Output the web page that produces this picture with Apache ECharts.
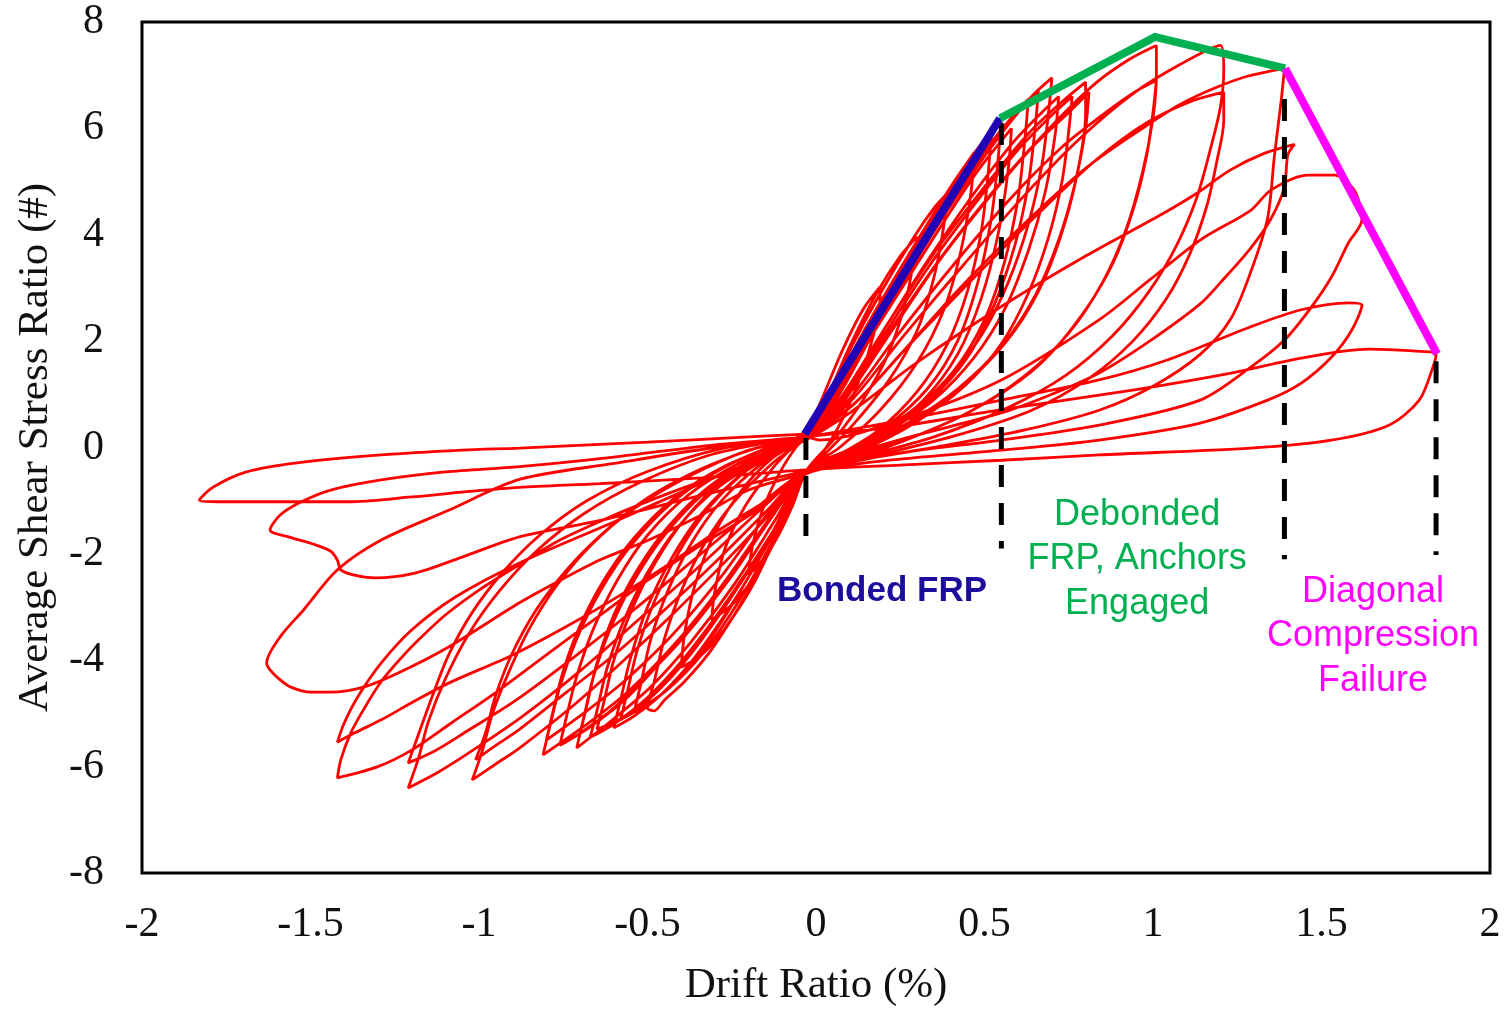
<!DOCTYPE html>
<html>
<head>
<meta charset="utf-8">
<script src="https://cdn.jsdelivr.net/npm/echarts@6/dist/echarts.min.js"></script>
<style>
  html, body { margin: 0; padding: 0; background: #ffffff; }
  #chart { width: 1511px; height: 1016px; }
</style>
</head>
<body>
<div id="chart"></div>
<script>
// Cyclic test record, one array per load cycle: [drift ratio (%), average shear stress ratio]
const cycle01 = [[-0.03,0.22],[0.02,0.95],[0.08,1.85],[0.14,2.6],[0.19,3.02],[0.19,2.75],[0.17,2.1],[0.13,1.3],[0.08,0.55],[0.02,-0.1],[-0.03,-0.45],[-0.07,-1.1],[-0.12,-1.75],[-0.17,-2.2],[-0.2,-2.4],[-0.19,-1.9],[-0.16,-1.2],[-0.11,-0.5],[-0.06,0.0],[-0.03,0.2]];
const cycle02 = [[0.03,0.9],[0.1,1.9],[0.18,2.9],[0.25,3.6],[0.3,3.96],[0.29,3.5],[0.26,2.6],[0.21,1.7],[0.14,0.9],[0.06,0.2],[-0.03,-0.45],[-0.09,-1.3],[-0.16,-2.2],[-0.24,-2.9],[-0.31,-3.24],[-0.3,-2.7],[-0.27,-1.9],[-0.21,-1.1],[-0.13,-0.4],[-0.07,0.0],[-0.03,0.2]];
const cycle03 = [[0.03,0.85],[0.11,1.95],[0.2,3.0],[0.29,3.95],[0.35,4.5],[0.39,4.78],[0.38,4.2],[0.35,3.2],[0.3,2.2],[0.22,1.3],[0.12,0.5],[0.03,-0.1],[-0.03,-0.45],[-0.1,-1.4],[-0.18,-2.5],[-0.27,-3.4],[-0.34,-3.9],[-0.4,-4.13],[-0.39,-3.5],[-0.36,-2.6],[-0.3,-1.6],[-0.22,-0.8],[-0.13,-0.2],[-0.03,0.2]];
const cycle04 = [[0.04,0.9],[0.13,2.05],[0.23,3.15],[0.33,4.2],[0.41,5.0],[0.47,5.55],[0.46,4.8],[0.43,3.7],[0.38,2.6],[0.3,1.6],[0.19,0.7],[0.07,0.0],[-0.03,-0.45],[-0.11,-1.6],[-0.21,-2.8],[-0.31,-3.8],[-0.39,-4.4],[-0.45,-4.75],[-0.48,-4.95],[-0.5,-4.9],[-0.48,-4.4],[-0.45,-3.6],[-0.4,-2.7],[-0.33,-1.8],[-0.24,-1.0],[-0.13,-0.3],[-0.04,0.15]];
const cycle05 = [[0.04,0.95],[0.14,2.1],[0.25,3.3],[0.36,4.45],[0.46,5.45],[0.55,6.19],[0.54,5.4],[0.52,4.3],[0.48,3.1],[0.42,2.0],[0.33,1.1],[0.2,0.35],[0.07,-0.15],[-0.03,-0.45],[-0.12,-1.65],[-0.23,-2.9],[-0.34,-3.9],[-0.44,-4.55],[-0.52,-4.9],[-0.58,-5.12],[-0.56,-4.6],[-0.53,-3.8],[-0.48,-2.9],[-0.41,-2.0],[-0.32,-1.15],[-0.2,-0.4],[-0.05,0.18]];
const cycle06 = [[0.04,0.85],[0.14,2.0],[0.24,3.1],[0.34,4.1],[0.44,5.1],[0.52,5.85],[0.51,5.1],[0.49,4.05],[0.45,2.95],[0.39,1.95],[0.3,1.05],[0.18,0.3],[0.05,-0.2],[-0.04,-0.5],[-0.12,-1.5],[-0.22,-2.65],[-0.32,-3.65],[-0.41,-4.35],[-0.48,-4.75],[-0.54,-4.98],[-0.52,-4.45],[-0.49,-3.6],[-0.44,-2.7],[-0.37,-1.8],[-0.28,-1.0],[-0.16,-0.3],[-0.04,0.18]];
const cycle07 = [[0.05,0.9],[0.15,1.95],[0.27,3.15],[0.38,4.25],[0.48,5.2],[0.58,6.0],[0.57,5.2],[0.54,4.0],[0.49,2.8],[0.42,1.75],[0.32,0.9],[0.19,0.25],[0.06,-0.2],[-0.03,-0.45],[-0.12,-1.55],[-0.24,-2.85],[-0.36,-3.95],[-0.46,-4.65],[-0.54,-5.05],[-0.6,-5.27],[-0.58,-4.75],[-0.55,-3.95],[-0.5,-3.0],[-0.43,-2.1],[-0.34,-1.25],[-0.22,-0.5],[-0.06,0.15]];
const cycle08 = [[0.05,0.95],[0.16,2.15],[0.28,3.4],[0.4,4.6],[0.51,5.65],[0.58,6.2],[0.63,6.55],[0.62,5.8],[0.6,4.7],[0.56,3.5],[0.5,2.4],[0.41,1.45],[0.29,0.7],[0.15,0.1],[-0.03,-0.45],[-0.13,-1.6],[-0.26,-2.9],[-0.38,-3.95],[-0.49,-4.7],[-0.58,-5.1],[-0.65,-5.3],[-0.63,-4.8],[-0.6,-4.0],[-0.55,-3.1],[-0.48,-2.2],[-0.39,-1.35],[-0.27,-0.6],[-0.12,-0.05],[-0.02,0.22]];
const cycle09 = [[0.06,0.9],[0.17,2.15],[0.29,3.45],[0.41,4.65],[0.52,5.65],[0.6,6.3],[0.66,6.7],[0.65,6.0],[0.63,4.95],[0.59,3.8],[0.53,2.7],[0.45,1.7],[0.34,0.9],[0.2,0.25],[0.05,-0.25],[-0.03,-0.5],[-0.13,-1.6],[-0.26,-2.85],[-0.39,-3.95],[-0.5,-4.7],[-0.6,-5.2],[-0.67,-5.45],[-0.65,-4.95],[-0.62,-4.15],[-0.57,-3.25],[-0.5,-2.35],[-0.41,-1.5],[-0.29,-0.75],[-0.14,-0.15],[-0.03,0.2]];
const cycle10 = [[0.06,0.95],[0.17,2.2],[0.3,3.6],[0.43,4.85],[0.55,5.9],[0.64,6.6],[0.7,6.95],[0.69,6.3],[0.67,5.3],[0.63,4.2],[0.57,3.1],[0.49,2.1],[0.38,1.2],[0.23,0.45],[0.08,-0.1],[-0.03,-0.45],[-0.12,-1.35],[-0.24,-2.55],[-0.37,-3.65],[-0.49,-4.5],[-0.6,-5.1],[-0.71,-5.65],[-0.69,-5.1],[-0.66,-4.3],[-0.61,-3.4],[-0.54,-2.5],[-0.45,-1.65],[-0.33,-0.85],[-0.18,-0.2],[-0.03,0.2]];
const cycle11 = [[0.07,0.9],[0.19,2.1],[0.33,3.5],[0.46,4.7],[0.58,5.7],[0.67,6.3],[0.72,6.6],[0.71,5.9],[0.68,4.8],[0.63,3.7],[0.56,2.6],[0.47,1.7],[0.35,0.9],[0.2,0.25],[0.06,-0.2],[-0.03,-0.45],[-0.13,-1.3],[-0.26,-2.5],[-0.39,-3.55],[-0.51,-4.35],[-0.61,-4.95],[-0.7,-5.37],[-0.68,-4.85],[-0.65,-4.05],[-0.6,-3.15],[-0.53,-2.3],[-0.44,-1.5],[-0.32,-0.75],[-0.17,-0.15],[-0.05,0.17]];
const cycle12 = [[0.07,0.85],[0.2,2.1],[0.34,3.45],[0.48,4.65],[0.6,5.6],[0.7,6.25],[0.76,6.6],[0.75,5.95],[0.73,5.0],[0.69,3.95],[0.63,2.9],[0.55,1.95],[0.44,1.15],[0.29,0.45],[0.12,-0.1],[-0.04,-0.48],[-0.15,-1.45],[-0.29,-2.7],[-0.43,-3.8],[-0.56,-4.7],[-0.67,-5.25],[-0.76,-5.6],[-0.74,-5.05],[-0.71,-4.3],[-0.66,-3.4],[-0.59,-2.5],[-0.5,-1.65],[-0.38,-0.9],[-0.23,-0.3],[-0.06,0.15]];
const cycle13 = [[0.07,0.9],[0.2,2.2],[0.35,3.65],[0.5,4.9],[0.63,5.9],[0.73,6.5],[0.8,6.87],[0.8,6.25],[0.78,5.3],[0.74,4.25],[0.68,3.2],[0.59,2.2],[0.47,1.35],[0.32,0.6],[0.15,0.0],[-0.03,-0.45],[-0.14,-1.35],[-0.28,-2.6],[-0.42,-3.7],[-0.56,-4.6],[-0.69,-5.25],[-0.81,-5.78],[-0.79,-5.25],[-0.76,-4.5],[-0.71,-3.6],[-0.64,-2.7],[-0.55,-1.85],[-0.43,-1.05],[-0.28,-0.4],[-0.12,0.05],[-0.02,0.2]];
const cycle14 = [[0.08,0.85],[0.22,2.15],[0.37,3.55],[0.52,4.75],[0.65,5.7],[0.75,6.3],[0.81,6.68],[0.8,6.0],[0.77,5.0],[0.72,3.9],[0.65,2.85],[0.55,1.9],[0.42,1.1],[0.27,0.45],[0.1,-0.1],[-0.03,-0.45],[-0.15,-1.3],[-0.29,-2.5],[-0.43,-3.55],[-0.57,-4.4],[-0.69,-5.0],[-0.8,-5.5],[-0.78,-4.95],[-0.75,-4.2],[-0.7,-3.35],[-0.63,-2.5],[-0.54,-1.7],[-0.42,-0.95],[-0.27,-0.35],[-0.1,0.08],[-0.03,0.22]];
const cycle15 = [[0.08,0.9],[0.22,2.2],[0.38,3.65],[0.55,5.0],[0.7,6.05],[0.83,6.85],[0.93,7.3],[1.01,7.56],[1.01,7.0],[1.0,6.2],[0.97,5.2],[0.92,4.1],[0.85,3.1],[0.75,2.15],[0.62,1.35],[0.45,0.65],[0.25,0.1],[0.07,-0.3],[-0.03,-0.45],[-0.13,-1.2],[-0.27,-2.15],[-0.42,-3.1],[-0.57,-4.0],[-0.72,-4.85],[-0.88,-5.65],[-0.95,-5.95],[-1.02,-6.25],[-0.99,-5.7],[-0.96,-5.0],[-0.91,-4.2],[-0.85,-3.4],[-0.77,-2.6],[-0.67,-1.85],[-0.54,-1.15],[-0.38,-0.55],[-0.2,-0.05],[-0.04,0.2]];
const cycle16 = [[0.09,0.85],[0.24,2.1],[0.41,3.45],[0.58,4.7],[0.73,5.65],[0.86,6.3],[0.95,6.7],[1.01,6.9],[1.0,6.3],[0.98,5.45],[0.94,4.45],[0.88,3.45],[0.79,2.5],[0.67,1.6],[0.52,0.9],[0.33,0.3],[0.12,-0.15],[-0.03,-0.45],[-0.14,-1.15],[-0.29,-2.1],[-0.44,-3.0],[-0.59,-3.85],[-0.74,-4.6],[-0.88,-5.3],[-0.95,-5.6],[-1.01,-5.87],[-0.98,-5.35],[-0.95,-4.65],[-0.9,-3.85],[-0.83,-3.05],[-0.74,-2.3],[-0.63,-1.6],[-0.5,-0.95],[-0.34,-0.4],[-0.17,0.0],[-0.03,0.2]];
const cycle17 = [[0.1,0.85],[0.26,2.1],[0.44,3.45],[0.62,4.75],[0.79,5.85],[0.94,6.65],[1.08,7.2],[1.2,7.56],[1.21,7.1],[1.2,6.4],[1.17,5.6],[1.13,4.7],[1.07,3.8],[0.99,2.95],[0.88,2.1],[0.74,1.35],[0.57,0.75],[0.35,0.2],[0.12,-0.2],[-0.03,-0.45],[-0.17,-1.2],[-0.34,-2.2],[-0.52,-3.2],[-0.7,-4.2],[-0.87,-5.05],[-1.02,-5.7],[-1.12,-6.1],[-1.21,-6.4],[-1.18,-5.85],[-1.15,-5.15],[-1.1,-4.35],[-1.03,-3.5],[-0.94,-2.7],[-0.83,-1.95],[-0.69,-1.25],[-0.52,-0.65],[-0.32,-0.15],[-0.12,0.12],[-0.03,0.2]];
const cycle18 = [[0.11,0.8],[0.28,1.95],[0.47,3.2],[0.66,4.4],[0.83,5.4],[0.98,6.1],[1.11,6.5],[1.21,6.68],[1.21,6.15],[1.19,5.4],[1.16,4.55],[1.11,3.65],[1.04,2.8],[0.94,2.0],[0.81,1.3],[0.64,0.7],[0.43,0.25],[0.2,-0.12],[-0.03,-0.45],[-0.18,-1.15],[-0.36,-2.1],[-0.54,-3.05],[-0.72,-3.95],[-0.89,-4.75],[-1.04,-5.35],[-1.13,-5.7],[-1.21,-5.93],[-1.18,-5.4],[-1.14,-4.7],[-1.09,-3.9],[-1.02,-3.1],[-0.93,-2.35],[-0.82,-1.65],[-0.68,-1.0],[-0.5,-0.45],[-0.28,-0.02],[-0.05,0.2]];
const cycle19 = [[0.1,0.75],[0.25,1.75],[0.42,2.95],[0.6,4.1],[0.8,5.25],[0.98,6.05],[1.08,6.45],[1.18,6.75],[1.28,6.98],[1.39,7.13],[1.38,6.5],[1.36,5.47],[1.34,4.31],[1.29,3.3],[1.23,2.41],[1.14,1.75],[1.0,1.15],[0.84,0.7],[0.62,0.33],[0.35,0.0],[0.12,-0.25],[-0.03,-0.5],[-0.18,-1.2],[-0.34,-1.83],[-0.5,-2.5],[-0.64,-3.15],[-0.8,-3.9],[-0.94,-4.56],[-1.08,-5.17],[-1.2,-5.69],[-1.3,-6.0],[-1.42,-6.21],[-1.41,-5.87],[-1.38,-5.36],[-1.34,-4.9],[-1.29,-4.4],[-1.23,-3.95],[-1.18,-3.62],[-1.1,-3.15],[-1.0,-2.68],[-0.88,-2.2],[-0.76,-1.74],[-0.62,-1.33],[-0.49,-0.99],[-0.35,-0.66],[-0.23,-0.42],[-0.12,-0.1],[-0.03,0.14]];
const cycle20 = [[0.1,0.65],[0.3,1.6],[0.55,2.65],[0.8,3.6],[1.03,4.4],[1.13,4.78],[1.23,5.22],[1.33,5.53],[1.42,5.7],[1.4,5.5],[1.39,4.9],[1.35,4.3],[1.29,3.75],[1.2,3.1],[1.14,2.7],[0.99,2.0],[0.84,1.4],[0.7,1.0],[0.55,0.65],[0.25,0.15],[0.05,-0.25],[-0.03,-0.5],[-0.16,-1.05],[-0.3,-1.6],[-0.45,-2.25],[-0.6,-2.85],[-0.75,-3.4],[-0.9,-3.9],[-1.09,-4.43],[-1.2,-4.8],[-1.29,-5.12],[-1.37,-5.37],[-1.42,-5.54],[-1.4,-5.18],[-1.36,-4.69],[-1.29,-4.05],[-1.2,-3.43],[-1.07,-2.81],[-0.88,-2.17],[-0.6,-1.4],[-0.35,-0.7],[-0.15,-0.15],[-0.03,0.2]];
const cycle21 = [[0.01,0.14],[0.25,0.52],[0.55,1.27],[0.84,2.4],[0.99,3.15],[1.14,3.9],[1.29,4.46],[1.35,4.84],[1.46,5.12],[1.54,5.12],[1.59,4.9],[1.61,4.65],[1.62,4.28],[1.58,3.85],[1.53,3.21],[1.47,2.64],[1.39,2.02],[1.29,1.51],[1.14,0.89],[0.84,0.42],[0.55,0.14],[0.25,-0.1],[0.05,-0.35],[-0.05,-0.52],[-0.2,-0.8],[-0.34,-1.27],[-0.5,-1.75],[-0.64,-2.11],[-0.76,-2.5],[-0.88,-2.92],[-1.09,-3.75],[-1.24,-4.24],[-1.34,-4.5],[-1.44,-4.6],[-1.5,-4.6],[-1.56,-4.5],[-1.59,-4.37],[-1.62,-4.18],[-1.63,-4.05],[-1.59,-3.56],[-1.52,-3.05],[-1.42,-2.3],[-1.29,-1.74],[-1.09,-1.18],[-0.88,-0.6],[-0.6,-0.3],[-0.3,0.0],[-0.03,0.2]];
const cycle22 = [[0.2,0.45],[0.55,0.89],[0.84,1.27],[1.04,1.64],[1.29,2.27],[1.44,2.59],[1.58,2.72],[1.62,2.68],[1.59,2.21],[1.53,1.7],[1.44,1.21],[1.34,0.89],[1.14,0.46],[0.84,0.14],[0.55,-0.05],[0.2,-0.25],[-0.03,-0.45],[-0.34,-0.9],[-0.64,-1.37],[-0.88,-1.68],[-1.05,-2.06],[-1.19,-2.36],[-1.31,-2.45],[-1.37,-2.4],[-1.41,-2.3],[-1.42,-2.12],[-1.44,-1.95],[-1.5,-1.8],[-1.56,-1.69],[-1.62,-1.55],[-1.59,-1.27],[-1.53,-1.03],[-1.44,-0.8],[-1.29,-0.61],[-1.1,-0.46],[-0.88,-0.36],[-0.6,-0.18],[-0.3,0.05],[-0.03,0.2]];
const cycle23 = [[0.25,0.4],[0.55,0.71],[0.94,1.08],[1.24,1.41],[1.44,1.68],[1.64,1.85],[1.76,1.82],[1.84,1.75],[1.83,1.5],[1.79,0.89],[1.7,0.42],[1.53,0.14],[1.29,-0.01],[0.84,-0.14],[0.55,-0.24],[0.25,-0.33],[-0.03,-0.42],[-0.34,-0.57],[-0.64,-0.68],[-0.88,-0.75],[-1.05,-0.84],[-1.2,-0.93],[-1.39,-1.02],[-1.59,-1.02],[-1.74,-1.02],[-1.83,-0.99],[-1.79,-0.75],[-1.69,-0.46],[-1.54,-0.29],[-1.29,-0.14],[-1.05,-0.05],[-0.88,-0.01],[-0.5,0.1],[-0.2,0.2],[-0.03,0.25]];

const cycles = [cycle01, cycle02, cycle03, cycle04, cycle05, cycle06, cycle07, cycle08, cycle09, cycle10, cycle11, cycle12,
                cycle13, cycle14, cycle15, cycle16, cycle17, cycle18, cycle19, cycle20, cycle21, cycle22, cycle23];

// Idealised backbone, one segment per damage stage
const stageBonded = [[-0.033,0.25],[0.546,6.19]];
const stageDebonded = [[0.546,6.19],[1.006,7.72],[1.392,7.13]];
const stageFailure = [[1.392,7.13],[1.843,1.76]];

// Stage boundaries (dashed verticals): drift, top and bottom of each marker
const boundaryDrift = [-0.03, 0.55, 1.39, 1.84];
const boundaryTop = [0.18, 6.1, 6.55, 1.62];
const boundaryBottom = [-1.9, -1.9, -2.1, -2.02];

// Stage labels: centre drift, centre stress, text lines
const labelDrift = [0.196, 0.953, 1.653];
const labelStress = [-2.7, -2.1, -3.55];
const labelText = ['Bonded FRP', 'Debonded\nFRP, Anchors\nEngaged', 'Diagonal\nCompression\nFailure'];
const labelColor = ['#1C0E9C', '#00B050', '#FF00FF'];

const hysteresis = [].concat(...cycles);

const chart = echarts.init(document.getElementById('chart'), null, { renderer: 'canvas' });

const serif = '"Liberation Serif", "Times New Roman", serif';

const series = [{
  type: 'line',
  data: hysteresis,
  showSymbol: false,
  symbol: 'none',
  smooth: 0.3,
  lineStyle: { color: '#FF0000', width: 2.8 },
  z: 2,
  silent: true
}];

boundaryDrift.forEach((x, i) => {
  series.push({
    type: 'line',
    data: [[x, boundaryTop[i]], [x, boundaryBottom[i]]],
    symbol: 'none',
    lineStyle: { color: '#000000', width: 5, type: [22, 16] },
    z: 3,
    silent: true
  });
});

[[stageBonded, '#2206B5'], [stageDebonded, '#00B050'], [stageFailure, '#FF00FF']].forEach(([pts, c]) => {
  series.push({
    type: 'line',
    data: pts,
    symbol: 'none',
    lineStyle: { color: c, width: 8, cap: 'butt', join: 'miter' },
    z: 4,
    silent: true
  });
});

chart.setOption({
  animation: false,
  backgroundColor: '#ffffff',
  grid: {
    left: 142, right: 21, top: 22, bottom: 143,
    show: true, borderColor: '#000000', borderWidth: 3, backgroundColor: 'transparent'
  },
  xAxis: {
    type: 'value',
    min: -2, max: 2, interval: 0.5,
    name: 'Drift Ratio (%)',
    nameLocation: 'middle',
    nameGap: 91,
    nameTextStyle: { fontFamily: serif, fontSize: 43, color: '#111111' },
    axisLine: { show: false },
    axisTick: { show: false },
    splitLine: { show: false },
    axisLabel: { fontFamily: serif, fontSize: 42, color: '#111111', margin: 31, showMinLabel: true, showMaxLabel: true }
  },
  yAxis: {
    type: 'value',
    min: -8, max: 8, interval: 2,
    name: 'Average Shear Stress Ratio (#)',
    nameLocation: 'middle',
    nameGap: 85,
    nameTextStyle: { fontFamily: serif, fontSize: 43, color: '#111111' },
    axisLine: { show: false },
    axisTick: { show: false },
    splitLine: { show: false },
    axisLabel: { fontFamily: serif, fontSize: 42, color: '#111111', margin: 38, showMinLabel: true, showMaxLabel: true }
  },
  series: series
});

// Stage labels placed through the axis scales
const graphics = labelText.map((t, i) => {
  const p = chart.convertToPixel({ gridIndex: 0 }, [labelDrift[i], labelStress[i]]);
  return {
    type: 'text',
    x: p[0], y: p[1],
    z: 10,
    style: {
      text: t,
      fill: labelColor[i],
      fontFamily: '"Liberation Sans", Arial, sans-serif',
      fontSize: i === 0 ? 35 : 36,
      fontWeight: i === 0 ? 'bold' : 'normal',
      lineHeight: 44.5,
      align: 'center',
      verticalAlign: 'middle'
    }
  };
});
chart.setOption({ graphic: graphics });
</script>
</body>
</html>
